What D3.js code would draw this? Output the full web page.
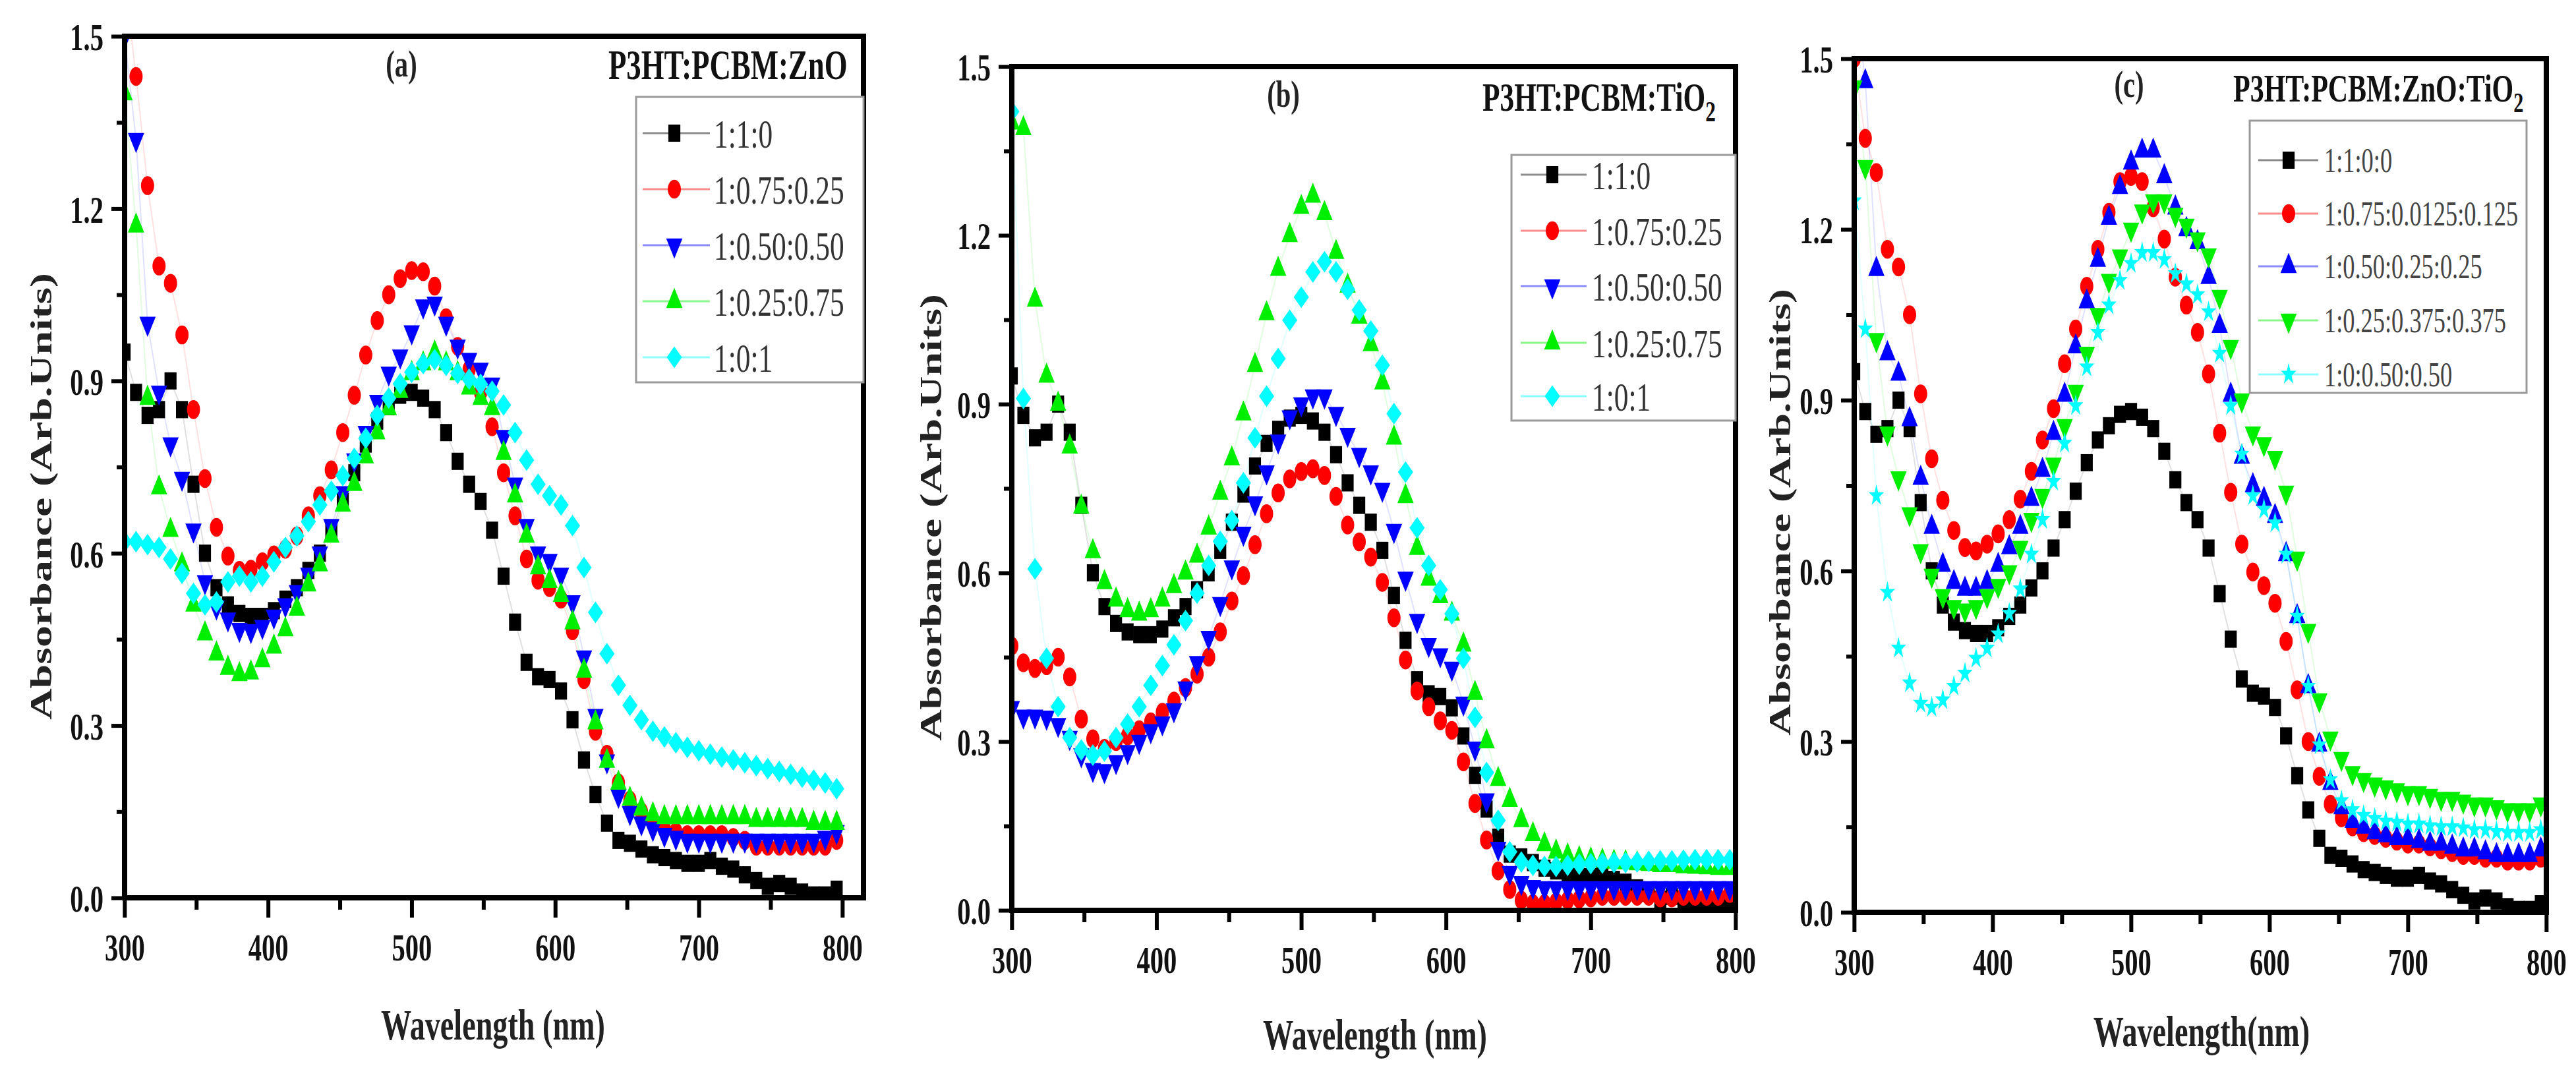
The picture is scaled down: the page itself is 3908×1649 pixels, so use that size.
<!DOCTYPE html>
<html>
<head>
<meta charset="utf-8">
<script src="https://cdn.jsdelivr.net/npm/d3@7"></script>
<style>
    html, body { margin: 0; padding: 0; background: #fff; }
    svg { display: block; }
</style>
</head>
<body>
<svg id="fig"></svg>
<script>

// Sampling grid of the spectra (nm)
var wavelength = [
    300, 308, 316, 324, 332, 340, 348, 356,
    364, 372, 380, 388, 396, 404, 412, 420,
    428, 436, 444, 452, 460, 468, 476, 484,
    492, 500, 508, 516, 524, 532, 540, 548,
    556, 564, 572, 580, 588, 596, 604, 612,
    620, 628, 636, 644, 652, 660, 668, 676,
    684, 692, 700, 708, 716, 724, 732, 740,
    748, 756, 764, 772, 780, 788, 796];

// Reference blend 1:1:0, the same curve in all three panels
var ratio110 = [
    0.95, 0.88, 0.84, 0.85, 0.90, 0.85, 0.72, 0.60,
    0.54, 0.51, 0.495, 0.49, 0.49, 0.50, 0.52, 0.54,
    0.57, 0.60, 0.64, 0.69, 0.74, 0.79, 0.83, 0.855,
    0.875, 0.88, 0.87, 0.85, 0.81, 0.76, 0.72, 0.69,
    0.64, 0.56, 0.48, 0.41, 0.385, 0.38, 0.36, 0.31,
    0.24, 0.18, 0.13, 0.10, 0.095, 0.085, 0.075, 0.07,
    0.065, 0.06, 0.06, 0.065, 0.055, 0.05, 0.04, 0.03,
    0.02, 0.025, 0.02, 0.01, 0.005, 0.005, 0.015];

// (a) P3HT:PCBM:ZnO
var zno_075_025 = [
    1.60, 1.43, 1.24, 1.10, 1.07, 0.98, 0.85, 0.73,
    0.645, 0.595, 0.57, 0.572, 0.585, 0.597, 0.607, 0.63,
    0.665, 0.70, 0.745, 0.81, 0.875, 0.945, 1.005, 1.05,
    1.078, 1.092, 1.09, 1.065, 1.01, 0.96, 0.92, 0.88,
    0.82, 0.74, 0.665, 0.59, 0.553, 0.54, 0.52, 0.465,
    0.38, 0.29, 0.25, 0.20, 0.17, 0.15, 0.13, 0.12,
    0.115, 0.11, 0.11, 0.11, 0.11, 0.105, 0.10, 0.09,
    0.09, 0.09, 0.09, 0.09, 0.09, 0.09, 0.10];
var zno_050_050 = [
    1.50, 1.32, 1.00, 0.88, 0.79, 0.73, 0.64, 0.55,
    0.506, 0.485, 0.467, 0.465, 0.472, 0.49, 0.51, 0.533,
    0.563, 0.60, 0.648, 0.705, 0.762, 0.81, 0.864, 0.913,
    0.943, 0.985, 1.03, 1.035, 1.00, 0.96, 0.937, 0.92,
    0.894, 0.803, 0.72, 0.648, 0.60, 0.587, 0.563, 0.515,
    0.419, 0.317, 0.238, 0.178, 0.148, 0.13, 0.12, 0.11,
    0.105, 0.10, 0.10, 0.10, 0.10, 0.10, 0.10, 0.10,
    0.10, 0.10, 0.10, 0.10, 0.10, 0.105, 0.115];
var zno_025_075 = [
    1.40, 1.17, 0.87, 0.714, 0.64, 0.58, 0.51, 0.46,
    0.425, 0.40, 0.389, 0.392, 0.413, 0.437, 0.467, 0.503,
    0.545, 0.58, 0.63, 0.684, 0.72, 0.768, 0.81, 0.852,
    0.882, 0.913, 0.93, 0.949, 0.93, 0.913, 0.888, 0.87,
    0.852, 0.774, 0.70, 0.63, 0.575, 0.551, 0.527, 0.479,
    0.395, 0.305, 0.238, 0.20, 0.172, 0.155, 0.145, 0.14,
    0.14, 0.14, 0.14, 0.14, 0.14, 0.14, 0.14, 0.135,
    0.135, 0.135, 0.135, 0.135, 0.13, 0.13, 0.13];
var zno_0_1 = [
    0.62, 0.62, 0.615, 0.61, 0.59, 0.565, 0.53, 0.51,
    0.515, 0.55, 0.56, 0.55, 0.56, 0.585, 0.61, 0.63,
    0.655, 0.684, 0.708, 0.735, 0.765, 0.80, 0.84, 0.87,
    0.895, 0.915, 0.93, 0.937, 0.927, 0.913, 0.903, 0.894,
    0.882, 0.858, 0.81, 0.762, 0.72, 0.70, 0.684, 0.648,
    0.575, 0.497, 0.425, 0.37, 0.335, 0.31, 0.29, 0.28,
    0.27, 0.262, 0.256, 0.25, 0.245, 0.24, 0.235, 0.23,
    0.225, 0.22, 0.215, 0.21, 0.205, 0.20, 0.19];

// (b) P3HT:PCBM:TiO2
var tio_075_025 = [
    0.47, 0.44, 0.43, 0.435, 0.45, 0.415, 0.34, 0.305,
    0.288, 0.30, 0.31, 0.321, 0.335, 0.352, 0.372, 0.396,
    0.42, 0.45, 0.495, 0.55, 0.595, 0.65, 0.705, 0.742,
    0.767, 0.78, 0.785, 0.773, 0.736, 0.685, 0.655, 0.628,
    0.583, 0.52, 0.445, 0.39, 0.362, 0.337, 0.32, 0.264,
    0.19, 0.125, 0.07, 0.037, 0.018, 0.012, 0.012, 0.015,
    0.018, 0.02, 0.022, 0.025, 0.025, 0.025, 0.025, 0.025,
    0.022, 0.022, 0.025, 0.025, 0.025, 0.025, 0.03];
var tio_050_050 = [
    0.36, 0.345, 0.345, 0.343, 0.33, 0.307, 0.276, 0.25,
    0.248, 0.264, 0.282, 0.30, 0.319, 0.333, 0.356, 0.395,
    0.44, 0.485, 0.545, 0.61, 0.67, 0.724, 0.779, 0.834,
    0.877, 0.90, 0.914, 0.914, 0.883, 0.846, 0.81, 0.779,
    0.748, 0.675, 0.59, 0.515, 0.472, 0.454, 0.43, 0.368,
    0.288, 0.196, 0.11, 0.067, 0.049, 0.042, 0.04, 0.04,
    0.04, 0.04, 0.04, 0.04, 0.04, 0.04, 0.04, 0.04,
    0.04, 0.04, 0.04, 0.04, 0.04, 0.04, 0.04];
var tio_025_075 = [
    1.40, 1.39, 1.085, 0.95, 0.90, 0.824, 0.717, 0.638,
    0.583, 0.552, 0.533, 0.527, 0.533, 0.552, 0.576, 0.60,
    0.63, 0.68, 0.742, 0.803, 0.883, 0.969, 1.061, 1.14,
    1.20, 1.25, 1.27, 1.239, 1.17, 1.11, 1.055, 1.006,
    0.938, 0.84, 0.736, 0.644, 0.589, 0.558, 0.527, 0.472,
    0.386, 0.30, 0.233, 0.196, 0.16, 0.135, 0.117, 0.104,
    0.097, 0.092, 0.09, 0.088, 0.086, 0.085, 0.083, 0.082,
    0.08, 0.08, 0.078, 0.077, 0.076, 0.075, 0.075];
var tio_0_1 = [
    1.42, 0.91, 0.607, 0.448, 0.362, 0.307, 0.285, 0.276,
    0.283, 0.307, 0.331, 0.362, 0.40, 0.435, 0.472, 0.515,
    0.564, 0.613, 0.656, 0.693, 0.76, 0.84, 0.914, 0.981,
    1.049, 1.09, 1.135, 1.153, 1.135, 1.104, 1.067, 1.03,
    0.969, 0.883, 0.779, 0.68, 0.613, 0.57, 0.527, 0.448,
    0.343, 0.245, 0.16, 0.104, 0.086, 0.08, 0.078, 0.078,
    0.08, 0.082, 0.083, 0.084, 0.085, 0.085, 0.086, 0.087,
    0.088, 0.088, 0.089, 0.09, 0.09, 0.09, 0.09];

// (c) P3HT:PCBM:ZnO:TiO2
var mix_075_00125_0125 = [
    1.50, 1.36, 1.30, 1.165, 1.134, 1.05, 0.911, 0.797,
    0.724, 0.671, 0.641, 0.635, 0.647, 0.665, 0.69, 0.726,
    0.775, 0.83, 0.885, 0.964, 1.025, 1.10, 1.165, 1.23,
    1.284, 1.293, 1.284, 1.238, 1.183, 1.116, 1.067, 1.019,
    0.946, 0.842, 0.738, 0.647, 0.598, 0.574, 0.543, 0.476,
    0.391, 0.30, 0.239, 0.19, 0.166, 0.15, 0.14, 0.135,
    0.13, 0.125, 0.12, 0.12, 0.115, 0.11, 0.105, 0.10,
    0.10, 0.095, 0.095, 0.09, 0.09, 0.09, 0.095];
var mix_050_025_025 = [
    1.62, 1.46, 1.13, 0.982, 0.946, 0.866, 0.763, 0.677,
    0.61, 0.58, 0.568, 0.568, 0.58, 0.61, 0.641, 0.677,
    0.726, 0.777, 0.842, 0.909, 0.994, 1.073, 1.146, 1.22,
    1.274, 1.317, 1.338, 1.338, 1.293, 1.238, 1.20, 1.177,
    1.116, 1.03, 0.909, 0.80, 0.75, 0.726, 0.696, 0.629,
    0.52, 0.397, 0.294, 0.227, 0.184, 0.16, 0.15, 0.14,
    0.135, 0.13, 0.13, 0.125, 0.12, 0.12, 0.115, 0.11,
    0.11, 0.105, 0.10, 0.10, 0.10, 0.10, 0.11];
var mix_025_0375_0375 = [
    1.45, 1.31, 1.006, 0.842, 0.763, 0.70, 0.635, 0.592,
    0.556, 0.537, 0.531, 0.537, 0.556, 0.574, 0.598, 0.641,
    0.69, 0.732, 0.787, 0.855, 0.915, 0.982, 1.05, 1.11,
    1.153, 1.20, 1.232, 1.25, 1.25, 1.226, 1.207, 1.183,
    1.155, 1.082, 0.994, 0.90, 0.842, 0.823, 0.799, 0.738,
    0.622, 0.495, 0.373, 0.306, 0.27, 0.245, 0.233, 0.225,
    0.22, 0.215, 0.21, 0.21, 0.205, 0.20, 0.20, 0.195,
    0.19, 0.19, 0.185, 0.18, 0.18, 0.18, 0.19];
var mix_0_050_050 = [
    1.25, 1.025, 0.732, 0.562, 0.464, 0.403, 0.367, 0.36,
    0.373, 0.397, 0.42, 0.446, 0.464, 0.489, 0.525, 0.568,
    0.629, 0.69, 0.757, 0.824, 0.89, 0.958, 1.019, 1.067,
    1.11, 1.14, 1.159, 1.159, 1.147, 1.122, 1.104, 1.085,
    1.055, 0.982, 0.89, 0.805, 0.732, 0.708, 0.684, 0.629,
    0.52, 0.397, 0.294, 0.233, 0.196, 0.18, 0.17, 0.165,
    0.16, 0.158, 0.155, 0.155, 0.152, 0.15, 0.15, 0.148,
    0.145, 0.145, 0.142, 0.14, 0.14, 0.14, 0.145];

// Legend labels
var znoLabels = ["1:1:0", "1:0.75:0.25", "1:0.50:0.50", "1:0.25:0.75", "1:0:1"];
var tioLabels = ["1:1:0", "1:0.75:0.25", "1:0.50:0.50", "1:0.25:0.75", "1:0:1"];
var mixLabels = ["1:1:0:0", "1:0.75:0.0125:0.125", "1:0.50:0.25:0.25",
                 "1:0.25:0.375:0.375", "1:0:0.50:0.50"];

// Tick labels
var xTicks = [300, 400, 500, 600, 700, 800];
var xMinor = [350, 450, 550, 650, 750];
var yTicks = [0, 0.3, 0.6, 0.9, 1.2, 1.5];
var yMinor = [0.15, 0.45, 0.75, 1.05, 1.35];


// The printed figure is squeezed horizontally, so draw in a wider
// viewBox and let the browser squash it (text and markers included)
var SQ = 0.7;
var W = 3908, H = 1649;
var serif = "'Liberation Serif', 'Times New Roman', serif";

var svg = d3.select("#fig")
    .attr("width", W)
    .attr("height", H)
    .attr("viewBox", "0 0 " + (W / SQ) + " " + H)
    .attr("preserveAspectRatio", "none");

function sx(px) { return px / SQ; }

// Square turned 45 degrees
var diamond = {
    draw: function(ctx, size) {
        var r = Math.sqrt(size / 2);
        ctx.moveTo(0, -r);
        ctx.lineTo(r, 0);
        ctx.lineTo(0, r);
        ctx.lineTo(-r, 0);
        ctx.closePath();
    }
};

var marks = {
    square: {type: d3.symbolSquare, size: 680, rot: 0},
    circle: {type: d3.symbolCircle, size: 640, rot: 0},
    up:     {type: d3.symbolTriangle, size: 540, rot: 0},
    down:   {type: d3.symbolTriangle, size: 540, rot: 180},
    diamond:{type: diamond, size: 540, rot: 0},
    star:   {type: d3.symbolStar, size: 340, rot: 0}
};

function makeSeries(values, color, mark, name) {
    return {values: values, color: color, mark: mark, name: name};
}

var panels = [
    {
        id: "a", tag: "(a)", title: "P3HT:PCBM:ZnO", sub: "", xTitle: "Wavelength (nm)",
        left: 189, x800: 1278, right: 1310, top: 55, bottom: 1362,
        tagPos: [609, 116], titlePos: [923, 120], titleSize: 64,
        box: [965, 147, 1310, 580], rows: [202, 287, 372, 457, 542],
        line: [975, 1077], mark: 1023, text: 1083, legendSize: 62, legendColor: "#333",
        yTitlePos: [62, 753], xTitlePos: [748, 1577],
        series: [
            makeSeries(ratio110, "#000000", "square", znoLabels[0]),
            makeSeries(zno_075_025, "#ff0000", "circle", znoLabels[1]),
            makeSeries(zno_050_050, "#0000ff", "down", znoLabels[2]),
            makeSeries(zno_025_075, "#00ee00", "up", znoLabels[3]),
            makeSeries(zno_0_1, "#00ffff", "diamond", znoLabels[4])
        ]
    },
    {
        id: "b", tag: "(b)", title: "P3HT:PCBM:TiO", sub: "2", xTitle: "Wavelength (nm)",
        left: 1535, x800: 2633, right: 2633, top: 101, bottom: 1381,
        tagPos: [1947, 162], titlePos: [2249, 168], titleSize: 62,
        box: [2293, 235, 2633, 638], rows: [265, 350, 434, 520, 601],
        line: [2307, 2407], mark: 2355, text: 2415, legendSize: 62, legendColor: "#333",
        yTitlePos: [1412, 785], xTitlePos: [2086, 1592],
        series: [
            makeSeries(ratio110, "#000000", "square", tioLabels[0]),
            makeSeries(tio_075_025, "#ff0000", "circle", tioLabels[1]),
            makeSeries(tio_050_050, "#0000ff", "down", tioLabels[2]),
            makeSeries(tio_025_075, "#00ee00", "up", tioLabels[3]),
            makeSeries(tio_0_1, "#00ffff", "diamond", tioLabels[4])
        ]
    },
    {
        id: "c", tag: "(c)", title: "P3HT:PCBM:ZnO:TiO", sub: "2", xTitle: "Wavelength(nm)",
        left: 2813, x800: 3863, right: 3863, top: 89, bottom: 1384,
        tagPos: [3230, 147], titlePos: [3388, 154], titleSize: 60,
        box: [3413, 183, 3833, 596], rows: [243, 324, 404, 486, 568],
        line: [3426, 3517], mark: 3472, text: 3526, legendSize: 52, legendColor: "#444",
        yTitlePos: [2700, 777], xTitlePos: [3340, 1587],
        series: [
            makeSeries(ratio110, "#000000", "square", mixLabels[0]),
            makeSeries(mix_075_00125_0125, "#ff0000", "circle", mixLabels[1]),
            makeSeries(mix_050_025_025, "#0000ff", "up", mixLabels[2]),
            makeSeries(mix_025_0375_0375, "#00ee00", "down", mixLabels[3]),
            makeSeries(mix_0_050_050, "#00ffff", "star", mixLabels[4])
        ]
    }
];


function symbolPath(mark) {
    return d3.symbol().type(marks[mark].type).size(marks[mark].size)();
}

function markTransform(mark, x, y) {
    var t = "translate(" + x + "," + y + ")";
    if (marks[mark].rot) t += " rotate(" + marks[mark].rot + ")";
    return t;
}

function styleAxis(g, size) {
    g.select(".domain").remove();
    g.attr("font-family", serif)
        .attr("font-size", size)
        .attr("font-weight", "bold");
    g.selectAll("line")
        .attr("stroke", "#000")
        .attr("stroke-width", 6)
        .attr("vector-effect", "non-scaling-stroke");
    g.selectAll("text").attr("fill", "#111");
}


// Draw one panel of the figure
function drawPanel(p) {

    var x = d3.scaleLinear()
        .domain([300, 800])
        .range([sx(p.left), sx(p.x800)]);

    var y = d3.scaleLinear()
        .domain([0, 1.5])
        .range([p.bottom, p.top]);

    var x0 = sx(p.left), x1 = sx(p.right);

    svg.append("clipPath")
        .attr("id", "clip-" + p.id)
        .append("rect")
        .attr("x", x0)
        .attr("y", p.top)
        .attr("width", x1 - x0)
        .attr("height", p.bottom - p.top);

    var g = svg.append("g").attr("class", "panel-" + p.id);

    // Axes with minor ticks
    var xMajor = g.append("g")
        .attr("transform", "translate(0," + p.bottom + ")")
        .call(d3.axisBottom(x).tickValues(xTicks).tickSize(30).tickPadding(24)
            .tickFormat(d3.format("d")));
    styleAxis(xMajor, 58);

    var xMin = g.append("g")
        .attr("transform", "translate(0," + p.bottom + ")")
        .call(d3.axisBottom(x).tickValues(xMinor).tickSize(18).tickFormat(""));
    styleAxis(xMin, 58);

    var yMajor = g.append("g")
        .attr("transform", "translate(" + x0 + ",0)")
        .call(d3.axisLeft(y).tickValues(yTicks).tickSize(sx(20)).tickPadding(sx(12))
            .tickFormat(d3.format(".1f")));
    styleAxis(yMajor, 58);
    yMajor.selectAll("text").attr("dy", "0.36em");

    var yMin = g.append("g")
        .attr("transform", "translate(" + x0 + ",0)")
        .call(d3.axisLeft(y).tickValues(yMinor).tickSize(sx(12)).tickFormat(""));
    styleAxis(yMin, 58);

    // Curves (faint, hidden behind the symbols) and markers
    var plot = g.append("g").attr("clip-path", "url(#clip-" + p.id + ")");

    var line = d3.line()
        .x(function(d, i) { return x(wavelength[i]); })
        .y(function(d) { return y(d); });

    p.series.forEach(function(s) {
        plot.append("path")
            .datum(s.values)
            .attr("d", line)
            .attr("fill", "none")
            .attr("stroke", s.color)
            .attr("stroke-opacity", 0.12)
            .attr("stroke-width", 2)
            .attr("vector-effect", "non-scaling-stroke");
    });

    p.series.forEach(function(s) {
        plot.append("g")
            .selectAll("path")
            .data(s.values)
            .enter()
            .append("path")
            .attr("d", symbolPath(s.mark))
            .attr("transform", function(d, i) {
                return markTransform(s.mark, x(wavelength[i]), y(d));
            })
            .attr("fill", s.color);
    });

    // Frame
    g.append("rect")
        .attr("x", x0)
        .attr("y", p.top)
        .attr("width", x1 - x0)
        .attr("height", p.bottom - p.top)
        .attr("fill", "none")
        .attr("stroke", "#000")
        .attr("stroke-width", 8)
        .attr("vector-effect", "non-scaling-stroke");

    // Panel tag and legend title
    g.append("text")
        .attr("x", sx(p.tagPos[0]))
        .attr("y", p.tagPos[1])
        .attr("text-anchor", "middle")
        .attr("font-family", serif)
        .attr("font-weight", "bold")
        .attr("font-size", 58)
        .attr("fill", "#222")
        .text(p.tag);

    var title = g.append("text")
        .attr("x", sx(p.titlePos[0]))
        .attr("y", p.titlePos[1])
        .attr("font-family", serif)
        .attr("font-weight", "bold")
        .attr("font-size", p.titleSize)
        .attr("fill", "#111")
        .text(p.title);
    if (p.sub) {
        title.append("tspan")
            .attr("dy", 16)
            .attr("font-size", p.titleSize * 0.72)
            .text(p.sub);
    }

    // Legend
    var legend = g.append("g").attr("class", "legend");

    legend.append("rect")
        .attr("x", sx(p.box[0]))
        .attr("y", p.box[1])
        .attr("width", sx(p.box[2]) - sx(p.box[0]))
        .attr("height", p.box[3] - p.box[1])
        .attr("fill", "#fff")
        .attr("stroke", "#9a9a9a")
        .attr("stroke-width", 3)
        .attr("vector-effect", "non-scaling-stroke");

    var item = legend.selectAll(".item")
        .data(p.series)
        .enter()
        .append("g")
        .attr("class", "item");

    item.append("line")
        .attr("x1", sx(p.line[0]))
        .attr("x2", sx(p.line[1]))
        .attr("y1", function(d, i) { return p.rows[i]; })
        .attr("y2", function(d, i) { return p.rows[i]; })
        .attr("stroke", function(d) { return d.color; })
        .attr("stroke-opacity", 0.45)
        .attr("stroke-width", 3)
        .attr("vector-effect", "non-scaling-stroke");

    item.append("path")
        .attr("d", function(d) { return symbolPath(d.mark); })
        .attr("transform", function(d, i) {
            return markTransform(d.mark, sx(p.mark), p.rows[i]);
        })
        .attr("fill", function(d) { return d.color; });

    item.append("text")
        .attr("x", sx(p.text))
        .attr("y", function(d, i) { return p.rows[i]; })
        .attr("dy", "0.35em")
        .attr("font-family", serif)
        .attr("font-size", p.legendSize)
        .attr("fill", p.legendColor)
        .text(function(d) { return d.name; });

    // Axis titles
    g.append("text")
        .attr("x", sx(p.xTitlePos[0]))
        .attr("y", p.xTitlePos[1])
        .attr("text-anchor", "middle")
        .attr("font-family", serif)
        .attr("font-weight", "bold")
        .attr("font-size", 66)
        .attr("fill", "#222")
        .text(p.xTitle);

    g.append("text")
        .attr("transform", "translate(" + sx(p.yTitlePos[0]) + "," + p.yTitlePos[1] + ") rotate(-90)")
        .attr("text-anchor", "middle")
        .attr("dy", "0.35em")
        .attr("font-family", serif)
        .attr("font-weight", "bold")
        .attr("font-size", 66)
        .attr("fill", "#222")
        .text("Absorbance (Arb.Units)");
}

panels.forEach(drawPanel);

</script>
</body>
</html>
